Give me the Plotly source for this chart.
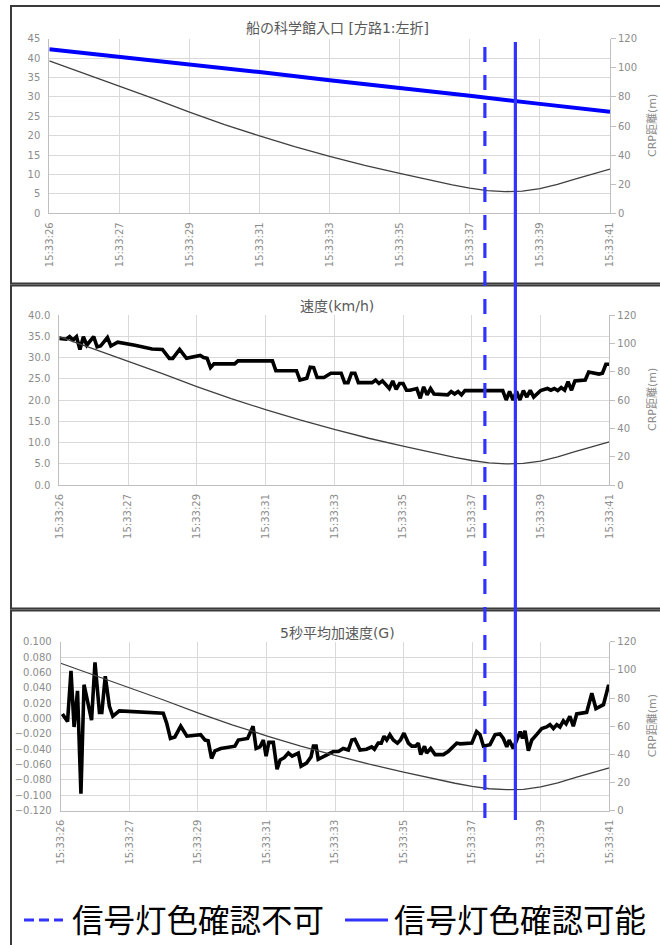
import plotly.graph_objects as go

W, H = 660, 945

# ---- data -------------------------------------------------------------
time_labels = ["15:33:26", "15:33:27", "15:33:29", "15:33:31", "15:33:33",
               "15:33:35", "15:33:37", "15:33:39", "15:33:41"]
tick_pos = [0, 2, 4, 6, 8, 10, 12, 14, 16]          # seconds from start

# distance to the conflict reference point (m)
crp_t = [0, 1, 2, 3, 4, 5, 6, 7, 8, 9, 10, 11, 11.5, 12, 12.5, 13, 13.5,
         14, 14.5, 15, 15.5, 16]
crp_m = [104.7, 96.0, 87.5, 78.6, 69.5, 61.0, 53.2, 45.9, 39.2, 33.0, 27.4,
         22.0, 19.5, 17.3, 15.6, 14.9, 15.2, 16.9, 19.8, 23.5, 27.0, 30.4]

# top panel series
route_t = [0, 2, 4, 6, 8, 10, 12, 14, 16]
route_v = [42.3, 40.4, 38.4, 36.4, 34.3, 32.4, 30.3, 28.2, 26.2]

# speed (km/h)
spd_t = [0.0, 0.2, 0.3, 0.4, 0.5, 0.6, 0.7, 0.8, 1.0, 1.1, 1.2, 1.4, 1.5,
         1.7, 2.2, 2.7, 3.0, 3.2, 3.3, 3.5, 3.7, 4.1, 4.2, 4.3, 4.4, 4.5,
         5.1, 5.2, 6.2, 6.3, 6.9, 7.0, 7.2, 7.3, 7.4, 7.5, 7.7, 7.9, 8.2,
         8.3, 8.4, 8.5, 8.6, 8.7, 9.1, 9.2, 9.3, 9.4, 9.6, 9.7, 9.8, 9.9,
         10.0, 10.1, 10.2, 10.4, 10.5, 10.6, 10.7, 10.8, 10.9, 11.1, 11.3,
         11.4, 11.5, 11.6, 11.7, 11.8, 12.9, 13.0, 13.1, 13.2, 13.3, 13.4,
         13.5, 13.6, 13.7, 13.8, 14.0, 14.2, 14.3, 14.4, 14.5, 14.6, 14.7,
         14.8, 14.9, 15.0, 15.3, 15.4, 15.6, 15.7, 15.8, 15.9, 16.0]
spd_v = [34.5, 34.3, 34.9, 34.1, 34.9, 31.9, 34.9, 32.9, 34.9, 32.5, 32.7,
         34.7, 32.7, 33.6, 32.9, 32.0, 31.9, 29.8, 29.8, 31.9, 29.8, 30.5,
         30.0, 29.8, 27.6, 28.5, 28.5, 29.2, 29.2, 26.9, 26.9, 24.7, 25.1,
         27.7, 27.6, 25.3, 25.3, 26.3, 26.3, 24.1, 24.1, 26.3, 26.3, 24.1,
         24.1, 24.7, 23.9, 24.5, 22.7, 24.5, 22.5, 23.9, 23.9, 22.3, 22.3,
         22.7, 20.4, 23.1, 21.2, 22.7, 21.4, 21.2, 21.2, 22.0, 21.4, 22.0,
         21.2, 22.2, 22.2, 20.0, 22.0, 20.0, 22.0, 20.0, 22.2, 20.7, 22.3,
         20.7, 22.2, 22.7, 22.3, 22.7, 22.2, 22.9, 22.3, 24.3, 22.3, 24.5,
         24.7, 26.6, 26.3, 26.1, 26.3, 28.4, 28.4]

# 5-second mean acceleration (G)
acc_t = [0.05, 0.20, 0.30, 0.39, 0.49, 0.59, 0.68, 0.78, 0.90, 1.00, 1.13,
         1.20, 1.30, 1.42, 1.52, 1.71, 2.99, 3.09, 3.20, 3.33, 3.50, 3.68,
         4.08, 4.21, 4.30, 4.40, 4.50, 4.67, 5.08, 5.18, 5.45, 5.61, 5.70,
         5.81, 5.91, 5.99, 6.07, 6.20, 6.31, 6.40, 6.52, 6.64, 6.75, 6.93,
         7.01, 7.17, 7.30, 7.37, 7.45, 7.51, 7.73, 7.95, 8.10, 8.24, 8.39,
         8.49, 8.58, 8.73, 8.92, 9.07, 9.15, 9.26, 9.35, 9.43, 9.51, 9.60,
         9.70, 9.82, 9.91, 10.01, 10.14, 10.24, 10.35, 10.43, 10.50, 10.61,
         10.67, 10.79, 10.92, 11.16, 11.30, 11.45, 11.55, 11.65, 11.99,
         12.13, 12.23, 12.33, 12.52, 12.67, 12.81, 12.91, 13.01, 13.08,
         13.20, 13.30, 13.40, 13.47, 13.54, 13.64, 13.74, 13.88, 14.03,
         14.17, 14.27, 14.37, 14.47, 14.56, 14.66, 14.74, 14.85, 14.95,
         15.05, 15.34, 15.49, 15.61, 15.83, 15.97, 16.00]
acc_g = [0.006, -0.004, 0.062, -0.011, 0.036, -0.098, 0.044, 0.024, -0.002,
         0.073, 0.008, 0.008, 0.055, 0.016, 0.003, 0.010, 0.007, -0.006,
         -0.026, -0.024, -0.010, -0.023, -0.021, -0.028, -0.029, -0.052,
         -0.042, -0.039, -0.036, -0.028, -0.026, -0.010, -0.039, -0.037,
         -0.028, -0.049, -0.031, -0.031, -0.066, -0.054, -0.051, -0.045,
         -0.049, -0.045, -0.062, -0.058, -0.050, -0.036, -0.036, -0.053,
         -0.048, -0.043, -0.043, -0.039, -0.041, -0.028, -0.027, -0.041,
         -0.040, -0.037, -0.040, -0.032, -0.032, -0.023, -0.028, -0.021,
         -0.028, -0.032, -0.028, -0.019, -0.032, -0.036, -0.036, -0.032,
         -0.047, -0.036, -0.045, -0.039, -0.047, -0.047, -0.043, -0.036,
         -0.032, -0.033, -0.032, -0.017, -0.021, -0.036, -0.034, -0.021,
         -0.020, -0.026, -0.037, -0.028, -0.039, -0.028, -0.017, -0.026,
         -0.016, -0.042, -0.028, -0.021, -0.013, -0.011, -0.008, -0.013,
         -0.008, -0.011, -0.003, -0.007, 0.003, -0.010, 0.006, 0.008, 0.033,
         0.013, 0.018, 0.042, 0.042]

# moments of the signal-colour check (s)
signal_unseen_t = 12.43
signal_seen_t = 13.30

panel_titles = ["船の科学館入口 [方路1:左折]", "速度(km/h)", "5秒平均加速度(G)"]
right_title = "CRP距離(m)"
legend_texts = ["信号灯色確認不可", "信号灯色確認可能"]

# ---- styling ----------------------------------------------------------
FONT = "DejaVu Sans, Noto Sans CJK JP, sans-serif"
LEG_FONT = "Noto Sans CJK JP, sans-serif"
GRID = "#d9d9d9"
AXLINE = "#bfbfbf"
TICKC = "#8c8c8c"
TITLEC = "#595959"
SIG_BLUE = "#3333ff"


def px(x):
    return x / W


def py(y):
    return 1 - y / H


# plot areas in pixels: (left, right, top, bottom)
areas = [(49.3, 610.0, 38.7, 213.3),
         (59.3, 609.3, 315.0, 485.0),
         (60.7, 609.3, 641.7, 810.7)]
left_ranges = [[0, 45], [0, 40], [-0.12, 0.10]]
left_dticks = [5, 5, 0.02]
left_formats = ["d", ".1f", ".3f"]

fig = go.Figure()

for i in range(3):
    xa = "x" if i == 0 else f"x{i + 1}"
    yr = f"y{2 * i + 2}"
    fig.add_trace(go.Scatter(x=crp_t, y=crp_m, mode="lines", xaxis=xa, yaxis=yr,
                             line=dict(color="#404040", width=1.3),
                             showlegend=False, hoverinfo="skip"))

fig.add_trace(go.Scatter(x=route_t, y=route_v, mode="lines", xaxis="x", yaxis="y",
                         line=dict(color="#0000ff", width=4), showlegend=False))
fig.add_trace(go.Scatter(x=spd_t, y=spd_v, mode="lines", xaxis="x2", yaxis="y3",
                         line=dict(color="#000000", width=3.6), showlegend=False))
fig.add_trace(go.Scatter(x=acc_t, y=acc_g, mode="lines", xaxis="x3", yaxis="y5",
                         line=dict(color="#000000", width=3.6), showlegend=False))

layout = dict(width=W, height=H, margin=dict(l=0, r=0, t=0, b=0, autoexpand=False),
              paper_bgcolor="white", plot_bgcolor="white",
              font=dict(family=FONT), showlegend=False)

for i, (l, r, t, b) in enumerate(areas):
    n = i + 1
    xk = "xaxis" if i == 0 else f"xaxis{n}"
    ylk = "yaxis" if i == 0 else f"yaxis{2 * i + 1}"
    yrk = f"yaxis{2 * i + 2}"
    xname = "x" if i == 0 else f"x{n}"
    ylname = "y" if i == 0 else f"y{2 * i + 1}"
    layout[xk] = dict(domain=[px(l), px(r)], anchor=ylname, range=[0, 16],
                      tickmode="array", tickvals=tick_pos, ticktext=time_labels,
                      tickangle=-90, tickfont=dict(size=10, color=TICKC, family=FONT),
                      showgrid=True, gridcolor=GRID, gridwidth=1,
                      showline=True, linecolor=AXLINE, linewidth=1,
                      ticks="", zeroline=False, ticklabelstandoff=4,
                      automargin=False)
    layout[ylk] = dict(domain=[py(b), py(t)], anchor=xname,
                       range=left_ranges[i], dtick=left_dticks[i], tick0=0,
                       tickformat=left_formats[i],
                       tickfont=dict(size=10, color=TICKC, family=FONT),
                       showgrid=True, gridcolor=GRID, gridwidth=1,
                       showline=True, linecolor=AXLINE, linewidth=1,
                       ticks="", zeroline=False, ticklabelstandoff=6,
                       automargin=False)
    layout[yrk] = dict(overlaying=ylname, anchor=xname, side="right",
                       range=[0, 120], dtick=20, tick0=0,
                       tickfont=dict(size=10, color=TICKC, family=FONT),
                       showgrid=False, zeroline=False,
                       showline=True, linecolor=AXLINE, linewidth=1,
                       ticks="outside", ticklen=5, tickcolor=AXLINE,
                       automargin=False)

fig.update_layout(**layout)

annotations = []
title_y = [28, 306, 633]
for txt, ty in zip(panel_titles, title_y):
    annotations.append(dict(text=txt, x=px(337), y=py(ty), xref="paper", yref="paper",
                            showarrow=False, xanchor="center", yanchor="middle",
                            font=dict(size=14, color=TITLEC, family=FONT)))
for (l, r, t, b) in areas:
    annotations.append(dict(text=right_title, x=px(652), y=py((t + b) / 2),
                            xref="paper", yref="paper", showarrow=False,
                            textangle=-90, xanchor="center", yanchor="middle",
                            font=dict(size=11, color=TICKC, family=FONT)))

# legend
annotations.append(dict(text=legend_texts[0], x=px(70), y=py(918), xref="paper",
                        yref="paper", showarrow=False, xanchor="left", yanchor="middle",
                        font=dict(size=31.5, color="#000000", family=LEG_FONT)))
annotations.append(dict(text=legend_texts[1], x=px(392), y=py(918), xref="paper",
                        yref="paper", showarrow=False, xanchor="left", yanchor="middle",
                        font=dict(size=31.5, color="#000000", family=LEG_FONT)))

shapes = []
# panel frames
for (t, b) in [(6, 283.5), (285.5, 608.5), (610.5, 960)]:
    shapes.append(dict(type="rect", xref="paper", yref="paper",
                       x0=px(11), x1=px(680), y0=py(b), y1=py(t),
                       line=dict(color="#3a3a3a", width=2), fillcolor="rgba(0,0,0,0)"))
# signal check markers
shapes.append(dict(type="line", xref="x", yref="paper",
                   x0=signal_unseen_t, x1=signal_unseen_t, y0=py(818), y1=py(42),
                   line=dict(color=SIG_BLUE, width=3.2, dash="15px,13px")))
shapes.append(dict(type="line", xref="x", yref="paper",
                   x0=signal_seen_t, x1=signal_seen_t, y0=py(820), y1=py(42),
                   line=dict(color=SIG_BLUE, width=3.2)))
# legend keys
shapes.append(dict(type="line", xref="paper", yref="paper",
                   x0=px(24), x1=px(63), y0=py(920), y1=py(920),
                   line=dict(color=SIG_BLUE, width=3.2, dash="10px,5px")))
shapes.append(dict(type="line", xref="paper", yref="paper",
                   x0=px(345), x1=px(388), y0=py(920), y1=py(920),
                   line=dict(color=SIG_BLUE, width=3.2)))

fig.update_layout(annotations=annotations, shapes=shapes)
fig.write_html("out.html")
